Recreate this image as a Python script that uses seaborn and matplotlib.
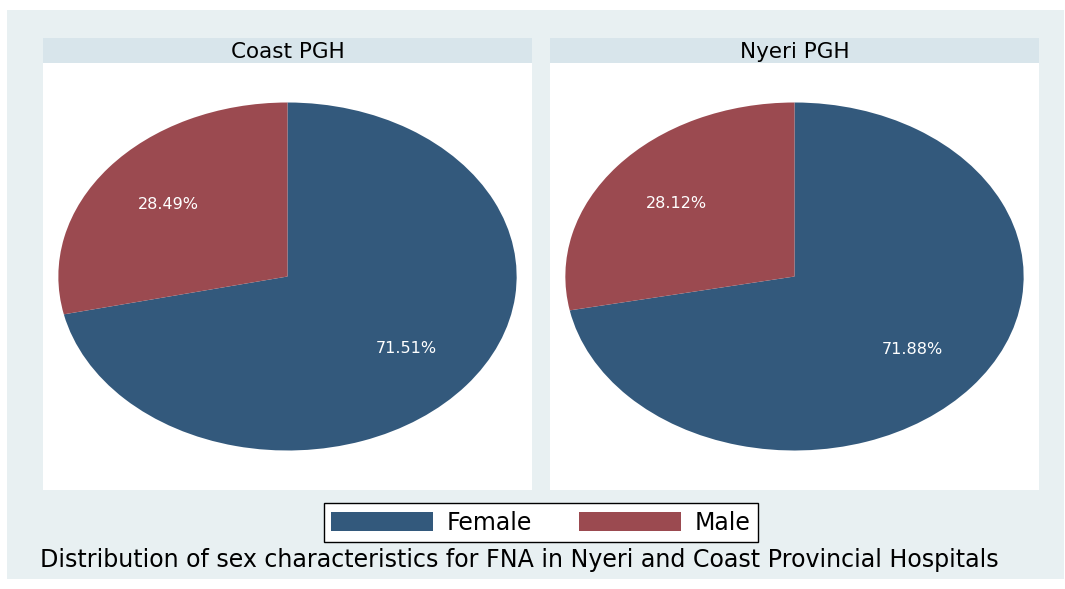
import matplotlib
matplotlib.use("Agg")
import matplotlib.pyplot as plt
import seaborn as sns
from matplotlib.patches import Rectangle, Patch

# ---- data ----
hospitals = ["Coast PGH", "Nyeri PGH"]
sexes = ["Female", "Male"]
female_pct = [71.51, 71.88]
male_pct = [28.49, 28.12]
caption = "Distribution of sex characteristics for FNA in Nyeri and Coast Provincial Hospitals"

colors = ["#33597c", "#9b4a50"]
outer_bg = "#e8f0f2"
strip_bg = "#d8e5eb"

sns.set_theme(style="white")
plt.rcParams["font.family"] = ["DejaVu Sans"]
plt.rcParams["text.color"] = "black"

W, H = 1065, 589
fig = plt.figure(figsize=(W / 100, H / 100), dpi=100)
fig.patch.set_facecolor("white")

def fx(px):
    return px / W

def fy(py):
    return 1 - py / H

# outer graph region
fig.patches.append(Rectangle((fx(7), fy(579)), fx(1064 - 7), (579 - 10) / H,
                             transform=fig.transFigure, facecolor=outer_bg,
                             edgecolor="none", zorder=-10))

panels = [(43, 532), (550, 1039)]
for i, (x0, x1) in enumerate(panels):
    # strip
    sax = fig.add_axes([fx(x0), fy(63), fx(x1 - x0), 25 / H])
    sax.set_facecolor(strip_bg)
    sax.set_xticks([]); sax.set_yticks([])
    for s in sax.spines.values():
        s.set_visible(False)
    sax.text(0.5, 0.46, hospitals[i], ha="center", va="center",
             fontsize=15.5, color="black", transform=sax.transAxes)

    ax = fig.add_axes([fx(x0), fy(490), fx(x1 - x0), 427 / H])
    ax.set_facecolor("white")
    vals = [female_pct[i], male_pct[i]]
    wedges, texts, autotexts = ax.pie(
        vals, colors=colors, startangle=90, counterclock=False,
        autopct=lambda p: f"{p:.2f}%", pctdistance=0.665, frame=True,
        wedgeprops=dict(linewidth=0),
        textprops=dict(color="white", fontsize=11.5))
    ax.set_aspect("auto")
    ax.set_xlim(-1.067, 1.067)
    ax.set_ylim(-1.227, 1.227)
    ax.set_xticks([]); ax.set_yticks([])
    for s in ax.spines.values():
        s.set_visible(False)

handles = [Patch(facecolor=colors[0], edgecolor="none"),
           Patch(facecolor=colors[1], edgecolor="none")]
leg = fig.legend(handles, sexes, loc="center",
                 bbox_to_anchor=(fx(541), fy(522.5)), ncol=2,
                 fontsize=17, frameon=True, fancybox=False, framealpha=1,
                 handlelength=4.3, handleheight=0.9, handletextpad=0.6,
                 columnspacing=2.0, borderpad=0.3, borderaxespad=0)
leg.get_frame().set_edgecolor("black")
leg.get_frame().set_linewidth(1.0)
leg.get_frame().set_facecolor("white")
for t in leg.get_texts():
    t.set_color("black")

fig.text(fx(40), fy(567), caption, ha="left", va="baseline", fontsize=17.1,
         color="black")

fig.savefig("out.png", dpi=100, facecolor=fig.get_facecolor())
